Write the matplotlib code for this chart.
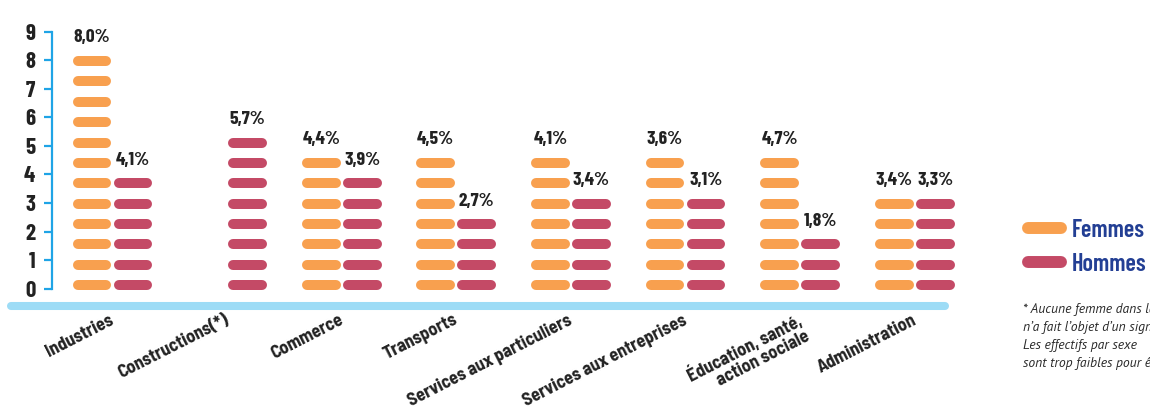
import matplotlib
matplotlib.use("Agg")
import matplotlib.pyplot as plt
from matplotlib.lines import Line2D

# ---------------- data ----------------
categories = ["Industries", "Constructions(*)", "Commerce", "Transports",
              "Services aux particuliers", "Services aux entreprises",
              "Éducation, santé,\naction sociale", "Administration"]
femmes_pct = [8.0, None, 4.4, 4.5, 4.1, 3.6, 4.7, 3.4]
hommes_pct = [4.1, 5.7, 3.9, 2.7, 3.4, 3.1, 1.8, 3.3]
femmes_pills = [12, 0, 7, 7, 7, 7, 7, 5]
hommes_pills = [6, 8, 6, 4, 5, 5, 3, 5]
yticks = list(range(0, 10))
legend_labels = ["Femmes", "Hommes"]
footnote = ("* Aucune femme dans la construction\n"
            "n\u2019a fait l\u2019objet d\u2019un signalement.\n"
            "Les effectifs par sexe\n"
            "sont trop faibles pour être significatifs.")

# ---------------- style ----------------
C_F = "#f8a04f"
C_H = "#c44a66"
C_AXIS = "#1fa4e6"
C_BASE = "#9ddcf6"
C_TXT = "#222222"
C_LEG = "#233f94"
COND = ["Barlow Condensed", "DejaVu Sans"]
SEMI = ["Barlow Semi Condensed", "Barlow Condensed", "DejaVu Sans"]
LEGF = ["Barlow Condensed", "DejaVu Sans"]
NOTEF = ["Source Sans Pro", "PT Sans", "Fira Sans", "DejaVu Sans"]

W, H, DPI = 11.5, 4.13, 100
fig = plt.figure(figsize=(W, H), dpi=DPI)
ax = fig.add_axes([0, 0, 1, 1])
ax.set_facecolor("white")

px_x = 114.6            # px per category
px_y = 28.56            # px per y unit
x0_px = 112.5           # px of first category centre
y0_px = 288.7           # px (from top) of value 0
ax.set_xlim(-x0_px / px_x, (W * DPI - x0_px) / px_x)
ax.set_ylim(-(H * DPI - y0_px) / px_y, y0_px / px_y)

pill_base = 0.12
pill_step = 0.714
pill_half = 0.1265
pill_lw = 7.2
off = 20.5 / px_x

for i, cat in enumerate(categories):
    for cnt, pct, dx, col in ((femmes_pills[i], femmes_pct[i], -off, C_F),
                              (hommes_pills[i], hommes_pct[i], off, C_H)):
        if cnt == 0:
            continue
        xc = i + dx
        for k in range(cnt):
            yk = pill_base + k * pill_step
            ax.plot([xc - pill_half, xc + pill_half], [yk, yk], color=col,
                    lw=pill_lw, solid_capstyle="round")
        ytop = pill_base + (cnt - 1) * pill_step
        ax.annotate(f"{pct:.1f}".replace(".", ",") + "%", (xc, ytop),
                    xytext=(0, 16.6), textcoords="offset points",
                    ha="center", va="center", fontsize=14,
                    fontweight="bold", family=COND, color=C_TXT)

# baseline
n = len(categories)
ax.plot([-0.886, n - 1 + 0.264], [-0.606, -0.606], color=C_BASE, lw=5.8,
        solid_capstyle="round")

# category labels
for i, cat in enumerate(categories):
    ax.text(i - 0.03, -0.80, cat, rotation=27, rotation_mode="anchor",
            ha="right", va="top", multialignment="right",
            fontsize=13, fontweight="bold", family=SEMI, color=C_TXT,
            linespacing=1.0)

# y axis
for s in ["top", "right", "bottom"]:
    ax.spines[s].set_visible(False)
ax.spines["left"].set_position(("data", (52 - x0_px) / px_x))
ax.spines["left"].set_bounds(0, 9)
ax.spines["left"].set_color(C_AXIS)
ax.spines["left"].set_linewidth(1.6)
ax.set_yticks(yticks)
ax.set_yticklabels([str(t) for t in yticks], fontsize=16.5, fontweight="bold",
                   family=COND, color=C_TXT)
ax.tick_params(axis="y", length=6, width=1.6, color=C_AXIS, pad=6)
ax.set_xticks([])

# legend
handles = [Line2D([0], [0], color=C_F, lw=8.6, solid_capstyle="round"),
           Line2D([0], [0], color=C_H, lw=8.6, solid_capstyle="round")]
leg = ax.legend(handles, legend_labels, loc="upper left",
                bbox_to_anchor=(1028 / (W * DPI), 1 - 219 / (H * DPI)),
                frameon=False, handlelength=1.35, handletextpad=0.45,
                labelspacing=0.45, borderaxespad=0, borderpad=0,
                prop={"family": LEGF, "weight": "semibold", "size": 17.5})
for t in leg.get_texts():
    t.set_color(C_LEG)

# footnote
fig.text(1023 / (W * DPI), 1 - 303 / (H * DPI), footnote, ha="left", va="top",
         fontsize=9.8, style="italic", family=NOTEF, fontweight="normal",
         color="#2a2a2a", linespacing=1.5)

fig.savefig("out.png", dpi=DPI, facecolor="white")
